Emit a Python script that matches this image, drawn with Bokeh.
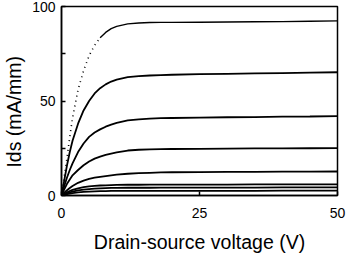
from bokeh.plotting import figure
from bokeh.embed import file_html
from bokeh.resources import INLINE
from bokeh.models import FixedTicker, Range1d

# Drain-source voltage (V)
vds = [0, 0.5, 1, 1.5, 2, 3, 4, 5, 6, 7, 8, 9, 10, 12, 14, 16, 18, 20, 25, 30, 35, 40, 45, 50]

# Ids (mA/mm) for each gate bias, top to bottom
ids_1 = [0, 10, 20, 31, 41, 56, 66, 74, 79.5, 83.5, 86.3, 88.3, 89.5, 90.8, 91.3, 91.5, 91.6, 91.6, 91.7, 91.8, 91.9, 92.0, 92.2, 92.4]
ids_2 = [0, 8, 16, 23, 29, 38, 45, 50, 54, 56.8, 58.8, 60.3, 61.3, 62.6, 63.2, 63.5, 63.7, 63.9, 64.2, 64.4, 64.6, 64.8, 65, 65.2]
ids_3 = [0, 5, 9.5, 13.5, 17, 23, 27.5, 31, 33.3, 35, 36.4, 37.5, 38.4, 39.7, 40.3, 40.7, 40.9, 41, 41.2, 41.4, 41.5, 41.7, 41.8, 42]
ids_4 = [0, 3.2, 6.2, 8.5, 10.7, 13.5, 16, 18, 19.5, 20.6, 21.5, 22.2, 22.8, 23.8, 24.2, 24.4, 24.5, 24.6, 24.7, 24.8, 24.9, 24.9, 25, 25.1]
ids_5 = [0, 1.5, 2.8, 4, 5, 6.7, 7.9, 8.8, 9.4, 9.9, 10.3, 10.7, 11, 11.5, 11.8, 12, 12.2, 12.3, 12.4, 12.5, 12.5, 12.6, 12.6, 12.7]
ids_6 = [0, 0.9, 1.7, 2.4, 3, 3.8, 4.4, 4.8, 5.1, 5.3, 5.4, 5.5, 5.6, 5.7, 5.7, 5.75, 5.75, 5.8, 5.8, 5.8, 5.85, 5.85, 5.9, 5.9]
ids_7 = [0, 0.6, 1.1, 1.6, 2.0, 2.7, 3.1, 3.4, 3.6, 3.8, 3.9, 4.0, 4.0, 4.1, 4.1, 4.1, 4.15, 4.15, 4.2, 4.2, 4.2, 4.25, 4.3, 4.3]
ids_8 = [0, 0.35, 0.7, 1.0, 1.25, 1.6, 1.9, 2.1, 2.2, 2.3, 2.35, 2.4, 2.4, 2.45, 2.45, 2.45, 2.5, 2.5, 2.5, 2.5, 2.5, 2.55, 2.55, 2.55]

x_ticks = [0, 25, 50]
y_ticks = [0, 25, 50, 75, 100]
y_labels = {0: "0", 25: "", 50: "50", 75: "", 100: "100"}

FONT = "Liberation Sans"

p = figure(width=355, height=259, output_backend="svg", toolbar_location=None,
           x_range=Range1d(0, 50), y_range=Range1d(0, 100),
           min_border_left=60, min_border_right=18, min_border_top=6, min_border_bottom=64)
p.background_fill_color = "white"
p.border_fill_color = "white"
p.outline_line_color = "black"
p.outline_line_width = 1.5
p.xgrid.visible = False
p.ygrid.visible = False

# top curve: dotted rise, then solid plateau
split = vds.index(7)
p.line(vds[:split + 1], ids_1[:split + 1], line_color="black", line_width=1.6, line_dash="1 4")
p.line(vds[split:], ids_1[split:], line_color="black", line_width=1.4)
for ys in [ids_2, ids_3, ids_4, ids_5, ids_6, ids_7, ids_8]:
    p.line(vds, ys, line_color="black", line_width=1.8)

for ax in (p.xaxis, p.yaxis):
    ax.axis_line_width = 1.5
    ax.axis_line_color = "black"
    ax.major_tick_in = 4
    ax.major_tick_out = 0
    ax.major_tick_line_width = 1.5
    ax.minor_tick_line_color = None
    ax.major_label_text_font = FONT
    ax.major_label_text_font_size = "14px"
    ax.major_label_text_color = "black"
    ax.axis_label_text_font = FONT
    ax.axis_label_text_font_size = "19.5px"
    ax.axis_label_text_font_style = "normal"
    ax.axis_label_text_color = "black"

p.xaxis.ticker = FixedTicker(ticks=x_ticks)
p.yaxis.ticker = FixedTicker(ticks=y_ticks)
p.yaxis.major_label_overrides = y_labels
p.xaxis.axis_label = "Drain-source voltage (V)"
p.yaxis.axis_label = "Ids (mA/mm)" + "\u00a0" * 4
p.xaxis.major_label_standoff = 12
p.yaxis.major_label_standoff = 6
p.xaxis.axis_label_standoff = 10
p.yaxis.axis_label_standoff = 4

open("out.html", "w").write(file_html(p, INLINE))
